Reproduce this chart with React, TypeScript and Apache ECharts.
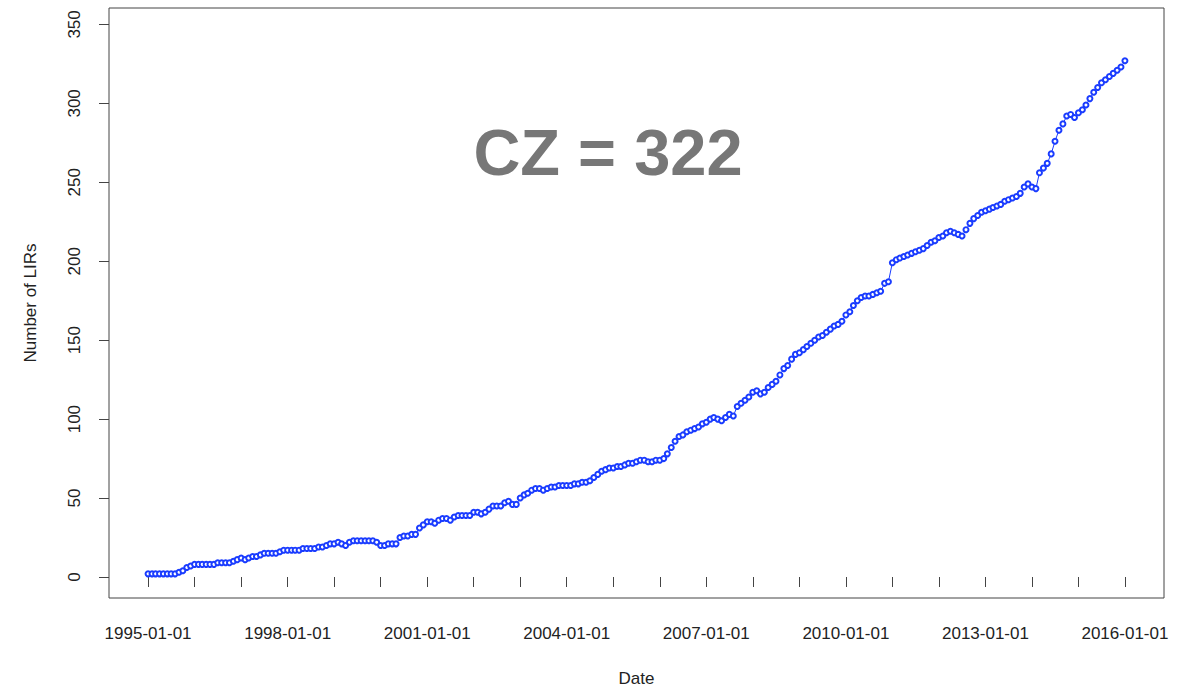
import React, { useEffect, useRef } from "react";
import * as echarts from "echarts";

// Monthly counts, one row per year (Jan..Dec), 1995-01 .. 2015-12, then 2016-01
const v1995 = [2, 2, 2, 2, 2, 2, 2, 2, 3, 4, 6, 7];
const v1996 = [8, 8, 8, 8, 8, 8, 9, 9, 9, 9, 10, 11];
const v1997 = [12, 11, 12, 13, 13, 14, 15, 15, 15, 15, 16, 17];
const v1998 = [17, 17, 17, 17, 18, 18, 18, 18, 19, 19, 20, 21];
const v1999 = [21, 22, 21, 20, 22, 23, 23, 23, 23, 23, 23, 22];
const v2000 = [20, 20, 21, 21, 21, 25, 26, 26, 27, 27, 31, 33];
const v2001 = [35, 35, 34, 36, 37, 37, 36, 38, 39, 39, 39, 39];
const v2002 = [41, 41, 40, 41, 43, 45, 45, 45, 47, 48, 46, 46];
const v2003 = [50, 52, 53, 55, 56, 56, 55, 56, 57, 57, 58, 58];
const v2004 = [58, 58, 59, 59, 60, 60, 61, 63, 65, 67, 68, 69];
const v2005 = [69, 70, 70, 71, 72, 72, 73, 74, 74, 73, 73, 74];
const v2006 = [74, 75, 78, 82, 86, 89, 90, 92, 93, 94, 95, 97];
const v2007 = [98, 100, 101, 100, 99, 101, 103, 102, 108, 110, 112, 114];
const v2008 = [117, 118, 116, 117, 120, 122, 124, 128, 132, 134, 138, 141];
const v2009 = [142, 144, 146, 148, 150, 152, 153, 155, 157, 159, 160, 162];
const v2010 = [166, 168, 172, 175, 177, 178, 178, 179, 180, 181, 186, 187];
const v2011 = [199, 201, 202, 203, 204, 205, 206, 207, 208, 210, 212, 213];
const v2012 = [215, 216, 218, 219, 218, 217, 216, 220, 224, 227, 229, 231];
const v2013 = [232, 233, 234, 235, 236, 238, 239, 240, 241, 243, 247, 249];
const v2014 = [247, 246, 256, 259, 262, 268, 276, 283, 287, 292, 293, 291];
const v2015 = [294, 296, 299, 303, 307, 310, 313, 315, 317, 319, 321, 323];
const v2016 = [327];

const yearlyValues = [
  v1995, v1996, v1997, v1998, v1999, v2000, v2001, v2002, v2003, v2004, v2005,
  v2006, v2007, v2008, v2009, v2010, v2011, v2012, v2013, v2014, v2015, v2016,
];
const firstYear = 1995;
const lastYear = 2016;
const yTickValues = [0, 50, 100, 150, 200, 250, 300, 350];
const xLabelYears = [1995, 1998, 2001, 2004, 2007, 2010, 2013, 2016];
const annotation = "CZ = 322";

const FONT = "'Liberation Sans', Arial, Helvetica, sans-serif";
const DAY = 86400000;

export default function App() {
  const ref = useRef<HTMLDivElement>(null);

  useEffect(() => {
    if (!ref.current) return;
    const chart = echarts.init(ref.current, undefined, { renderer: "svg" });

    // x in days since epoch (UTC)
    const data: [number, number][] = [];
    yearlyValues.forEach((vals, yi) => {
      vals.forEach((v, mi) => {
        data.push([Date.UTC(firstYear + yi, mi, 1) / DAY, v]);
      });
    });

    const t0 = Date.UTC(firstYear, 0, 1) / DAY;
    const t1 = Date.UTC(lastYear, 0, 1) / DAY;
    const span = t1 - t0;
    const yearTicks: number[] = [];
    for (let y = firstYear; y <= lastYear; y++) yearTicks.push(Date.UTC(y, 0, 1) / DAY);
    const labelTicks = xLabelYears.map((y) => Date.UTC(y, 0, 1) / DAY);

    chart.setOption({
      animation: false,
      backgroundColor: "#ffffff",
      grid: {
        left: 109,
        right: 32,
        top: 8,
        bottom: 94,
        show: true,
        borderColor: "#444",
        borderWidth: 1,
        backgroundColor: "transparent",
      },
      xAxis: {
        type: "value",
        min: t0 - 0.04 * span,
        max: t1 + 0.04 * span,
        name: "Date",
        nameLocation: "middle",
        nameGap: 72,
        nameTextStyle: { fontFamily: FONT, fontSize: 17, color: "#222" },
        axisLine: { show: false },
        splitLine: { show: false },
        axisTick: {
          show: true,
          customValues: yearTicks,
          length: 10,
          lineStyle: { color: "#444", width: 1 },
        },
        axisLabel: {
          customValues: labelTicks,
          margin: 27,
          fontFamily: FONT,
          fontSize: 17,
          color: "#222",
          formatter: (v: number) => new Date(Math.round(v) * DAY).toISOString().slice(0, 10),
        },
      },
      yAxis: {
        type: "value",
        min: -13.3,
        max: 360.4,
        name: "Number of LIRs",
        nameLocation: "middle",
        nameGap: 70,
        nameRotate: 90,
        nameTextStyle: { fontFamily: FONT, fontSize: 17, color: "#222" },
        axisLine: { show: false },
        splitLine: { show: false },
        axisTick: {
          show: true,
          customValues: yTickValues,
          length: 10,
          lineStyle: { color: "#444", width: 1 },
        },
        axisLabel: {
          customValues: yTickValues,
          rotate: 90,
          margin: 26,
          fontFamily: FONT,
          fontSize: 17,
          color: "#222",
        },
      },
      series: [
        {
          type: "line",
          data,
          symbol: "emptyCircle",
          symbolSize: 5,
          showSymbol: true,
          lineStyle: { color: "#1a3cff", width: 1 },
          itemStyle: { color: "#1a3cff", borderColor: "#1a3cff", borderWidth: 1.2 },
        },
      ],
      graphic: [
        {
          type: "text",
          x: 608,
          y: 152,
          style: {
            text: annotation,
            fontFamily: FONT,
            fontWeight: "bold",
            fontSize: 65,
            fill: "#777777",
            textAlign: "center",
            textVerticalAlign: "middle",
          },
        },
      ],
    });

    return () => chart.dispose();
  }, []);

  return (
    <div
      ref={ref}
      style={{ position: "fixed", left: 0, top: 0, width: 1196, height: 692 }}
    />
  );
}
